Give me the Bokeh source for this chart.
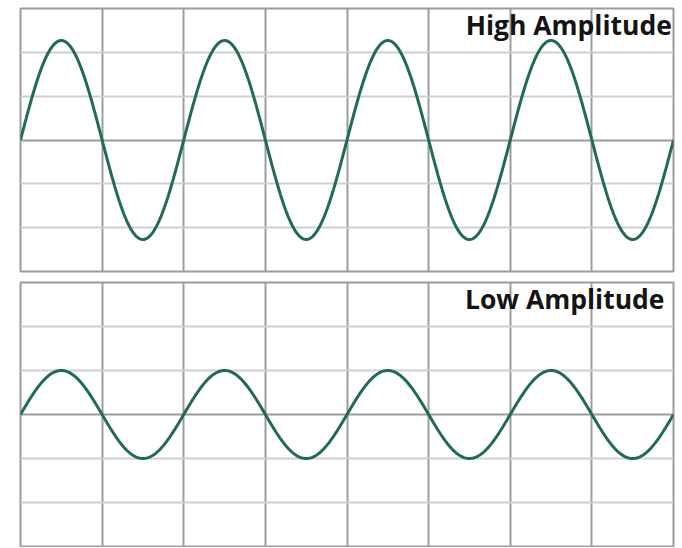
import numpy as np
from bokeh.plotting import figure
from bokeh.layouts import column
from bokeh.models import FixedTicker, Grid, Label
from bokeh.embed import file_html
from bokeh.resources import INLINE

# --- data ---
panel_titles = ["High Amplitude", "Low Amplitude"]
amplitudes = [2.27, 1.0]          # wave amplitude in grid units
cycles = 4                        # full periods across the panel
x_extent = 8                      # grid columns
y_extent = 3                      # half-height in grid rows
v_grid_ticks = [1, 2, 3, 4, 5, 6, 7]
h_grid_ticks = [-2, -1, 1, 2]
zero_tick = [0]

WAVE = "#1f6a5b"
VGRID = "#9c9c9c"
HGRID = "#cfcfcf"


def make_panel(title, amp, top_border, frame_h, bottom_border, text_inset):
    p = figure(width=682, height=top_border + frame_h + bottom_border,
               x_range=(0, x_extent), y_range=(-y_extent, y_extent),
               output_backend="svg", toolbar_location=None,
               min_border_left=20, min_border_right=9,
               min_border_top=top_border, min_border_bottom=bottom_border)
    p.axis.visible = False
    p.xgrid.ticker = FixedTicker(ticks=v_grid_ticks)
    p.xgrid.grid_line_color = VGRID
    p.xgrid.grid_line_width = 2
    p.ygrid.ticker = FixedTicker(ticks=h_grid_ticks)
    p.ygrid.grid_line_color = HGRID
    p.ygrid.grid_line_width = 2
    p.add_layout(Grid(dimension=1, ticker=FixedTicker(ticks=zero_tick),
                      grid_line_color=VGRID, grid_line_width=2))
    p.outline_line_color = VGRID
    p.outline_line_width = 2
    p.background_fill_color = "white"
    p.border_fill_color = "white"

    x = np.linspace(0, x_extent, 800)
    y = amp * np.sin(2 * np.pi * cycles * x / x_extent)
    p.line(x, y, line_color=WAVE, line_width=3)

    p.add_layout(Label(x=x_extent - text_inset, y=y_extent - 0.37, text=title,
                       text_align="right", text_baseline="alphabetic",
                       text_font="Open Sans", text_font_style="bold",
                       text_font_size="26.5px", text_color="#141414"))
    return p


p1 = make_panel(panel_titles[0], amplitudes[0], 8, 263, 5, 0.02)
p2 = make_panel(panel_titles[1], amplitudes[1], 6, 264, 1, 0.11)
p = column(p1, p2, spacing=0)

open("out.html", "w").write(file_html(p, INLINE))
